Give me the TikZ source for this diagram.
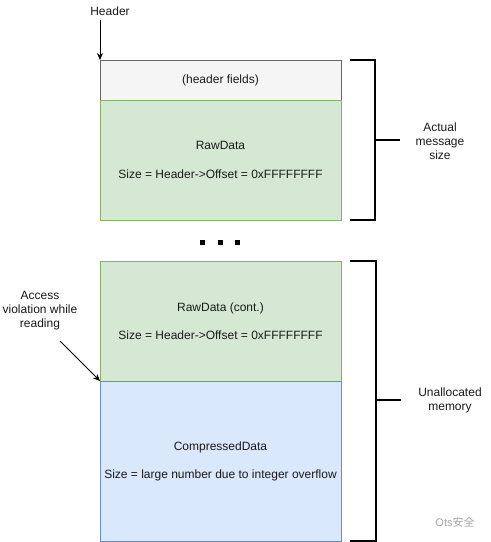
\documentclass[tikz,border=0pt]{standalone}
\usepackage{fontspec}
\setmainfont{Liberation Sans}
\newfontfamily\cjkfont{Noto Sans CJK SC}
\usetikzlibrary{arrows.meta}
\definecolor{hdrfill}{HTML}{F5F5F5}
\definecolor{hdrline}{HTML}{666666}
\definecolor{grnfill}{HTML}{D5E8D4}
\definecolor{grnline}{HTML}{82B366}
\definecolor{blufill}{HTML}{DAE8FC}
\definecolor{bluline}{HTML}{6C8EBF}
\definecolor{txt}{HTML}{1A1A1A}
\tikzset{
  membox/.style={rectangle, anchor=north west, minimum width=241pt, inner sep=0pt, outer sep=0pt, line width=0.8pt, align=center, text=txt, font=\fontsize{12}{14}\selectfont},
  hdrbox/.style={membox, fill=hdrfill, draw=hdrline},
  grnbox/.style={membox, fill=grnfill, draw=grnline},
  blubox/.style={membox, fill=blufill, draw=bluline},
  lbl/.style={align=center, text=txt, inner sep=0pt, font=\fontsize{12}{14}\selectfont},
  brack/.style={line width=1.8pt, black},
  ptr/.style={line width=0.8pt, black, -{Stealth[length=7pt,width=6pt]}},
  dot/.style={fill=black, draw=none, minimum size=5pt, inner sep=0pt, rectangle}
}
\begin{document}
\begin{tikzpicture}[x=1pt,y=-1pt]
\useasboundingbox (0,0) rectangle (491,542);
\fill[white] (0,0) rectangle (491,542);
% boxes
\node[hdrbox, minimum height=40pt] (hdr) at (100,60) {(header fields)};
\node[grnbox, minimum height=120pt] (raw1) at (100,100) {RawData\\[15pt]Size = Header->Offset = 0xFFFFFFFF};
\node[grnbox, minimum height=120pt] (raw2) at (100,261) {RawData (cont.)\\[14pt]Size = Header->Offset = 0xFFFFFFFF};
\node[blubox, minimum height=160pt] (comp) at (100,381) {CompressedData\\[14pt]Size = large number due to integer overflow};
% dots
\node[dot] (d1) at (202,242) {};
\node[dot] (d2) at (220,242) {};
\node[dot] (d3) at (237,242) {};
% labels
\node[lbl] (hlabel) at (110,11) {Header};
\coordinate (hstart) at (100,20);
\draw[ptr] (hstart) -- (hdr.north west);
\node[lbl] (access) at (40,311) {Access\\violation while\\reading};
\coordinate (astart) at (60,341);
\draw[ptr] (astart) -- (raw2.south west);
\node[lbl] (actual) at (440,141) {Actual\\message\\size};
\node[lbl] (unalloc) at (450,400) {Unallocated\\memory};
% brackets
\draw[brack] (350,60) -- (375,60) -- (375,220) -- (350,220);
\draw[brack] (375,140) -- (400,140);
\draw[brack] (350,261) -- (376,261) -- (376,541) -- (350,541);
\draw[brack] (376,400) -- (401,400);
% watermark
\node[text=black!35, inner sep=0pt, font=\fontsize{11}{13}\selectfont] (wm) at (455,522) {Ots{\cjkfont 安全}};
\end{tikzpicture}
\end{document}
